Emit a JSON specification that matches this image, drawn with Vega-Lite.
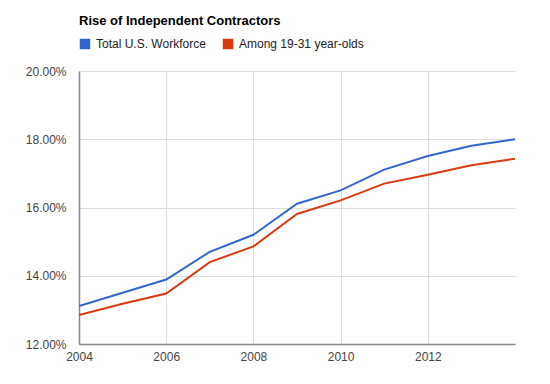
{
  "$schema": "https://vega.github.io/schema/vega-lite/v6.json",
  "autosize": "none",
  "width": 436,
  "height": 273,
  "padding": {"left": 79, "top": 71, "right": 35, "bottom": 40},
  "background": "white",
  "title": {
    "text": "Rise of Independent Contractors",
    "anchor": "start",
    "frame": "group",
    "font": "Liberation Sans",
    "fontSize": 13,
    "fontWeight": "bold",
    "color": "#000000",
    "orient": "top",
    "offset": 10
  },
  "config": {
    "view": {"stroke": null},
    "font": "Liberation Sans"
  },
  "data": {
    "values": [
      {"year": 2004, "series": "Total U.S. Workforce", "value": 0.1311},
      {"year": 2005, "series": "Total U.S. Workforce", "value": 0.1350},
      {"year": 2006, "series": "Total U.S. Workforce", "value": 0.1389},
      {"year": 2007, "series": "Total U.S. Workforce", "value": 0.1470},
      {"year": 2008, "series": "Total U.S. Workforce", "value": 0.1520},
      {"year": 2009, "series": "Total U.S. Workforce", "value": 0.1611},
      {"year": 2010, "series": "Total U.S. Workforce", "value": 0.1650},
      {"year": 2011, "series": "Total U.S. Workforce", "value": 0.1711},
      {"year": 2012, "series": "Total U.S. Workforce", "value": 0.1751},
      {"year": 2013, "series": "Total U.S. Workforce", "value": 0.1781},
      {"year": 2014, "series": "Total U.S. Workforce", "value": 0.1800},
      {"year": 2004, "series": "Among 19-31 year-olds", "value": 0.1285},
      {"year": 2005, "series": "Among 19-31 year-olds", "value": 0.1318},
      {"year": 2006, "series": "Among 19-31 year-olds", "value": 0.1348},
      {"year": 2007, "series": "Among 19-31 year-olds", "value": 0.1440},
      {"year": 2008, "series": "Among 19-31 year-olds", "value": 0.1486},
      {"year": 2009, "series": "Among 19-31 year-olds", "value": 0.1581},
      {"year": 2010, "series": "Among 19-31 year-olds", "value": 0.1621},
      {"year": 2011, "series": "Among 19-31 year-olds", "value": 0.1670},
      {"year": 2012, "series": "Among 19-31 year-olds", "value": 0.1696},
      {"year": 2013, "series": "Among 19-31 year-olds", "value": 0.1724},
      {"year": 2014, "series": "Among 19-31 year-olds", "value": 0.1743}
    ]
  },
  "mark": {"type": "line", "strokeWidth": 2, "clip": true},
  "encoding": {
    "x": {
      "field": "year",
      "type": "quantitative",
      "scale": {"domain": [2004, 2014], "nice": false, "zero": false},
      "axis": {
        "title": null,
        "values": [2004, 2006, 2008, 2010, 2012],
        "format": "d",
        "ticks": false,
        "domainColor": "#888888",
        "domainWidth": 1.5,
        "gridColor": "#dddddd",
        "labelFontSize": 12,
        "labelColor": "#444444",
        "labelPadding": 7,
        "labelFlush": false
      }
    },
    "y": {
      "field": "value",
      "type": "quantitative",
      "scale": {"domain": [0.12, 0.20], "nice": false, "zero": false},
      "axis": {
        "title": null,
        "values": [0.12, 0.14, 0.16, 0.18, 0.20],
        "format": ".2%",
        "ticks": false,
        "domainColor": "#888888",
        "domainWidth": 1.5,
        "gridColor": "#dddddd",
        "labelFontSize": 12,
        "labelColor": "#444444",
        "labelPadding": 13
      }
    },
    "color": {
      "field": "series",
      "type": "nominal",
      "scale": {
        "domain": ["Total U.S. Workforce", "Among 19-31 year-olds"],
        "range": ["#3366cc", "#dc3912"]
      },
      "legend": {
        "title": null,
        "orient": "none",
        "direction": "horizontal",
        "legendX": 0,
        "legendY": -33,
        "symbolType": "square",
        "symbolSize": 110,
        "symbolStrokeWidth": 0,
        "symbolOpacity": 1,
        "labelFontSize": 12,
        "labelColor": "#222222",
        "columnPadding": 16,
        "labelOffset": 5,
        "encode": {
          "symbols": {
            "update": {
              "fill": {"scale": "color", "field": "value"},
              "fillOpacity": {"value": 1}
            }
          }
        }
      }
    }
  }
}
